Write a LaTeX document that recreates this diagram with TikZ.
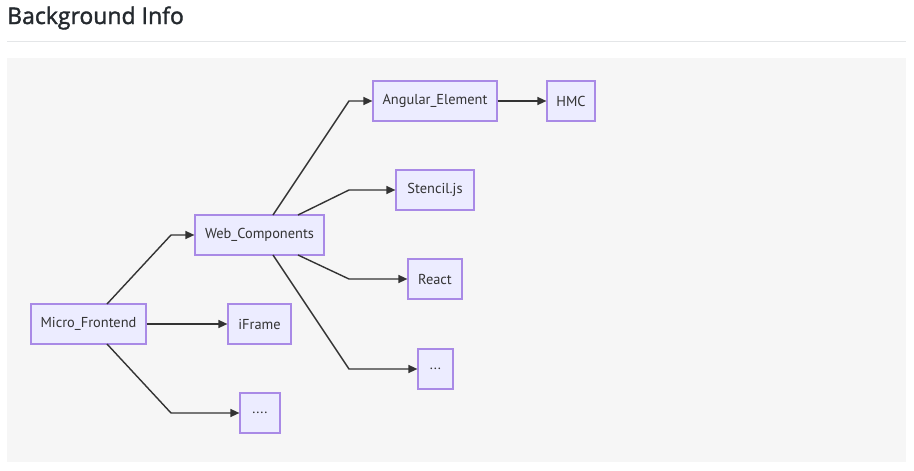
\documentclass[tikz,border=0pt]{standalone}
\usepackage{fontspec}
\setmainfont{PT Sans}
\newfontfamily\titlefont[FakeBold=1.6]{Open Sans}
\usetikzlibrary{arrows.meta}
\definecolor{nodefill}{HTML}{ECECFF}
\definecolor{nodedraw}{HTML}{A98AE6}
\definecolor{edgecol}{HTML}{333333}
\definecolor{panel}{HTML}{F6F6F6}
\definecolor{titlecol}{HTML}{24292E}
\definecolor{rulecol}{HTML}{E4E6E8}
\tikzset{
  box/.style={draw=nodedraw, fill=nodefill, line width=1.2pt, inner sep=0pt, minimum height=40pt, font=\fontsize{14.4}{17}\selectfont, text=edgecol},
  edge/.style={draw=edgecol, line width=1.4pt, -{Triangle[length=9pt,width=8pt]}},
}
\begin{document}
\begin{tikzpicture}[x=1pt,y=-1pt]
\useasboundingbox (0,0) rectangle (914,471);
\fill[white] (0,0) rectangle (914,471);
\node[anchor=west, inner sep=0pt, text=titlecol, font=\titlefont\fontsize{23}{27}\selectfont] (title) at (7,18) {Background Info};
\draw[rulecol, line width=1pt] (7,41.5) -- (906,41.5);
\fill[panel] (7,58) rectangle (906,462);

\node[box, minimum width=115pt] (mf) at (88.5,324) {Micro\_Frontend};
\node[box, minimum width=63pt] (ifr) at (259.5,324) {iFrame};
\node[box, minimum width=40pt] (dots4) at (260,413) {....};
\node[box, minimum width=129pt] (wc) at (259.5,235) {Web\_Components};
\node[box, minimum width=124pt] (ae) at (435,101) {Angular\_Element};
\node[box, minimum width=48pt] (hmc) at (571,101) {HMC};
\node[box, minimum width=78pt] (st) at (435,190) {Stencil.js};
\node[box, minimum width=54pt] (re) at (435,279) {React};
\node[box, minimum width=35pt] (dots3) at (435.5,369) {...};

\coordinate (mfT) at (107,304);
\coordinate (mfB) at (107,344);
\coordinate (wcTL) at (273,215);
\coordinate (wcTR) at (298,215);
\coordinate (wcBL) at (273,255);
\coordinate (wcBR) at (298,255);

\draw[edge] (mfT) -- (171,235) -- (wc.west);
\draw[edge] (mf.east) -- (ifr.west);
\draw[edge] (mfB) -- (171,413) -- (dots4.west);
\draw[edge] (wcTL) -- (349,101) -- (ae.west);
\draw[edge] (wcTR) -- (349,190) -- (st.west);
\draw[edge] (wcBR) -- (349,279) -- (re.west);
\draw[edge] (wcBL) -- (349,369) -- (dots3.west);
\draw[edge] (ae.east) -- (hmc.west);
\end{tikzpicture}
\end{document}
